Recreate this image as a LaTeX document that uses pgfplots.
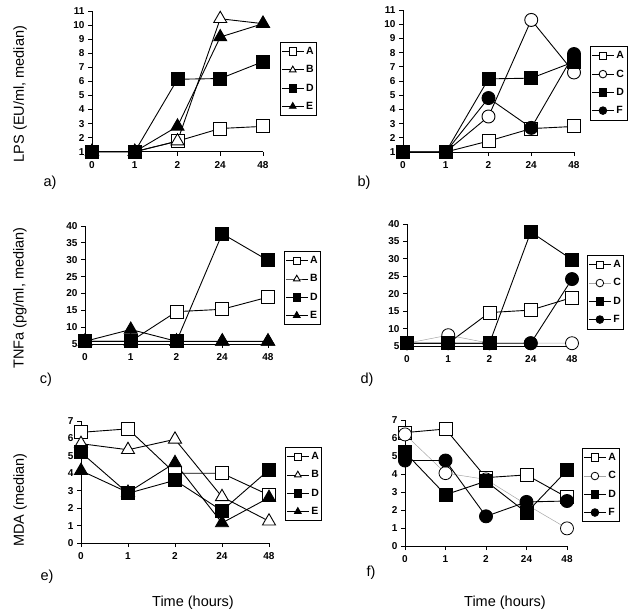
\documentclass[border=0pt]{standalone}
\usepackage{fontspec}
\setmainfont{Liberation Sans}
\usepackage{pgfplots}
\pgfplotsset{compat=1.18}

\pgfplotsset{
  panel/.style={
    scale only axis, axis lines=left,
    axis line style={-, line width=0.8pt},
    xmin=0, xmax=4, xtick={0,1,2,3,4}, xticklabels={0,1,2,24,48},
    tick align=outside, major tick length=4pt,
    tick style={black, line width=0.8pt},
    ticklabel style={font=\bfseries\fontsize{10}{10}\selectfont},
    xticklabel style={yshift=-2pt},
    /pgf/number format/assume math mode=true,
    clip=false, anchor=south west,
    legend cell align=left,
    legend style={draw=black, line width=0.8pt, anchor=north west,
      font=\bfseries\fontsize{10.5}{11}\selectfont,
      inner xsep=1pt, inner ysep=3pt, row sep=5.5pt,
      /tikz/every even column/.append style={column sep=2pt}},
    legend image code/.code={\draw[mark repeat=2,mark phase=2,#1]
      plot coordinates {(0pt,0pt) (11pt,0pt) (22pt,0pt)};},
    legend image post style={mark size=3.8pt},
  },
  every axis plot/.append style={black, line width=0.9pt},
  mA/.style={mark=square*, mark size=6.5pt, mark options={solid, fill=white}},
  mB/.style={mark=triangle*, mark size=7.5pt, mark options={solid, fill=white}},
  mC/.style={mark=*, mark size=6.5pt, mark options={solid, fill=white}},
  mD/.style={mark=square*, mark size=6.5pt, mark options={solid, fill=black}},
  mE/.style={mark=triangle*, mark size=7.5pt, mark options={solid, fill=black}},
  mF/.style={mark=*, mark size=6.5pt, mark options={solid, fill=black}},
  mCgrey/.style={gray!70, line width=0.5pt, mark=*, mark size=6.5pt,
    mark options={solid, draw=black, fill=white, line width=0.8pt}},
}

\begin{document}
\begin{tikzpicture}
\path[use as bounding box] (0pt,0pt) rectangle (635pt,-614pt);

% a) LPS
\begin{axis}[panel, at={(92pt,-151.7pt)}, width=171pt, height=140.7pt,
  ymin=1, ymax=11, ytick={1,2,...,11},
  legend style={at={(1.099,0.780)}}]
  \addplot[mA] coordinates {(0,1)(1,1)(2,1.75)(3,2.65)(4,2.8)};
  \addlegendentry{A}
  \addplot[mB] coordinates {(0,1)(1,1)(2,1.75)(3,10.45)(4,10.1)};
  \addlegendentry{B}
  \addplot[mD] coordinates {(0,1)(1,1)(2,6.15)(3,6.2)(4,7.4)};
  \addlegendentry{D}
  \addplot[mE] coordinates {(0,1)(1,1)(2,2.8)(3,9.15)(4,10.1)};
  \addlegendentry{E}
\end{axis}

% b) LPS
\begin{axis}[panel, at={(403pt,-152pt)}, width=171pt, height=142pt,
  ymin=1, ymax=11, ytick={1,2,...,11},
  legend style={at={(1.094,0.746)}}]
  \addplot[mA] coordinates {(0,1)(1,1)(2,1.77)(3,2.65)(4,2.8)};
  \addlegendentry{A}
  \addplot[mC] coordinates {(0,1)(1,1)(2,3.5)(3,10.3)(4,6.6)};
  \addlegendentry{C}
  \addplot[mD] coordinates {(0,1)(1,1)(2,6.15)(3,6.2)(4,7.35)};
  \addlegendentry{D}
  \addplot[mF] coordinates {(0,1)(1,1)(2,4.8)(3,2.7)(4,7.9)};
  \addlegendentry{F}
\end{axis}

% c) TNFa
\begin{axis}[panel, at={(85pt,-344pt)}, width=183pt, height=118pt,
  ymin=5, ymax=40, ytick={5,10,...,40},
  legend style={at={(1.087,0.788)}}]
  \addplot[mA] coordinates {(0,5.8)(1,5.8)(2,14.6)(3,15.3)(4,18.9)};
  \addlegendentry{A}
  \addplot[mB] coordinates {(0,5.8)(1,5.8)(2,5.8)(3,5.8)(4,5.8)};
  \addlegendentry{B}
  \addplot[mD] coordinates {(0,5.8)(1,5.8)(2,5.8)(3,37.7)(4,29.8)};
  \addlegendentry{D}
  \addplot[mE] coordinates {(0,5.8)(1,9.3)(2,5.8)(3,5.8)(4,5.8)};
  \addlegendentry{E}
\end{axis}

% d) TNFa
\begin{axis}[panel, at={(407pt,-346pt)}, width=165pt, height=122pt,
  ymin=5, ymax=40, ytick={5,10,...,40},
  legend style={at={(1.091,0.746)}}]
  \addplot[mA] coordinates {(0,5.8)(1,5.8)(2,14.6)(3,15.3)(4,18.9)};
  \addlegendentry{A}
  \addplot[mCgrey] coordinates {(0,5.8)(1,8.1)(2,5.8)(3,5.8)(4,5.8)};
  \addlegendentry{C}
  \addplot[mD] coordinates {(0,5.8)(1,5.8)(2,5.8)(3,37.7)(4,29.8)};
  \addlegendentry{D}
  \addplot[mF] coordinates {(0,5.8)(1,5.8)(2,5.8)(3,5.8)(4,24.2)};
  \addlegendentry{F}
\end{axis}

% e) MDA
\begin{axis}[panel, at={(81pt,-543pt)}, width=188pt, height=122pt,
  ymin=0, ymax=7, ytick={0,1,...,7},
  legend style={at={(1.085,0.787)}}]
  \addplot[mA] coordinates {(0,6.35)(1,6.55)(2,4.0)(3,4.0)(4,2.75)};
  \addlegendentry{A}
  \addplot[mB] coordinates {(0,5.7)(1,5.35)(2,5.95)(3,2.65)(4,1.25)};
  \addlegendentry{B}
  \addplot[mD] coordinates {(0,5.2)(1,2.85)(2,3.6)(3,1.85)(4,4.2)};
  \addlegendentry{D}
  \addplot[mE] coordinates {(0,4.15)(1,2.9)(2,4.6)(3,1.15)(4,2.6)};
  \addlegendentry{E}
\end{axis}

% f) MDA
\begin{axis}[panel, at={(405pt,-546pt)}, width=162pt, height=126pt,
  ymin=0, ymax=7, ytick={0,1,...,7},
  legend style={at={(1.093,0.778)}}]
  \addplot[mA] coordinates {(0,6.3)(1,6.5)(2,3.8)(3,3.95)(4,2.7)};
  \addlegendentry{A}
  \addplot[mCgrey] coordinates {(0,6.2)(1,4.05)(2,3.7)(3,2.3)(4,0.98)};
  \addlegendentry{C}
  \addplot[mD] coordinates {(0,5.2)(1,2.85)(2,3.6)(3,1.85)(4,4.2)};
  \addlegendentry{D}
  \addplot[mF] coordinates {(0,4.75)(1,4.75)(2,1.65)(3,2.45)(4,2.5)};
  \addlegendentry{F}
\end{axis}

\begin{scope}[every node/.style={font=\fontsize{14.5}{15}\selectfont}]
  \node[rotate=90] at (20pt,-94pt) {LPS (EU/ml, median)};
  \node[rotate=90] at (20pt,-298pt) {TNFa (pg/ml, median)};
  \node[rotate=90] at (20pt,-500pt) {MDA (median)};
  \node at (50pt,-183pt) {a)};
  \node at (364pt,-183pt) {b)};
  \node at (46pt,-380pt) {c)};
  \node at (367pt,-380pt) {d)};
  \node at (47pt,-577pt) {e)};
  \node at (371pt,-573pt) {f)};
  \node at (193pt,-603pt) {Time (hours)};
  \node at (505pt,-603pt) {Time (hours)};
\end{scope}
\end{tikzpicture}
\end{document}
